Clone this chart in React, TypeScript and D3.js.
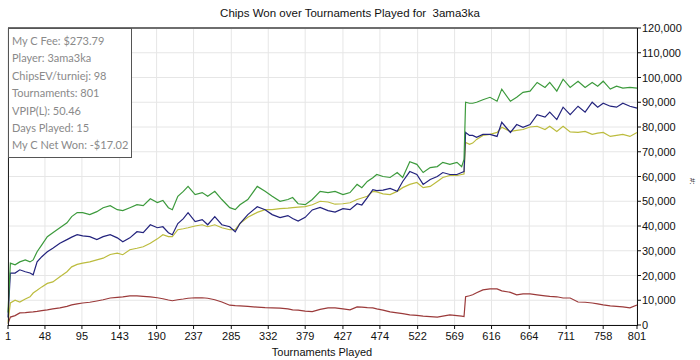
import React from 'react';
import * as d3 from 'd3';

// tournament number for each sampled point
const tournaments = [1, 4, 10, 16, 23, 29, 33, 38, 44, 51, 58, 67, 76, 82, 89, 96, 105, 114, 122, 131, 140, 147, 156, 165, 173, 182, 191, 198, 205, 210, 217, 224, 230, 239, 248, 255, 264, 273, 283, 290, 296, 306, 318, 328, 337, 347, 357, 363, 370, 379, 388, 398, 408, 417, 427, 436, 445, 451, 458, 465, 470, 478, 487, 496, 503, 512, 521, 529, 538, 547, 554, 563, 572, 578, 581, 583, 588, 592, 597, 605, 614, 623, 629, 640, 648, 656, 665, 674, 684, 690, 699, 707, 716, 726, 735, 744, 751, 758, 767, 775, 783, 792, 801];

// chips, in thousands
const greenK = [5, 25, 24.3, 25.5, 26.3, 25.5, 26.3, 29.6, 32.4, 35.7, 37.3, 39.3, 41.3, 43.8, 45.4, 45.4, 44.6, 45.8, 47.4, 48.2, 46.6, 46.2, 47.4, 48.6, 48.2, 51, 49.5, 50.3, 47.4, 46.6, 52, 54, 56, 52.7, 53.5, 52, 54, 50.7, 47.4, 46.6, 48.6, 50.7, 56, 54, 52, 50, 50.7, 51.5, 49, 48.6, 50.7, 54, 53.5, 54, 52.7, 53.5, 56.8, 55.5, 58, 59.5, 60.8, 60, 59.6, 61.6, 59.6, 66, 64.9, 61.6, 63.6, 64, 65.7, 64.9, 65.7, 64, 66.9, 90, 89.6, 89.6, 90, 91, 92, 90.4, 95.3, 90.4, 92, 94, 94.5, 98, 96, 98, 94.5, 99.3, 96, 98.5, 96, 98, 96.5, 98.5, 95.3, 96.5, 95.7, 96, 95.7];
const blueK = [3, 21, 21, 22.3, 21.5, 21, 20.3, 25.5, 27.6, 29.6, 31, 33, 34.5, 35.5, 36.5, 36, 35.7, 34.5, 35.7, 36.5, 35.2, 33.6, 35.2, 37.7, 37.3, 40.5, 39.3, 39.7, 37.3, 36.5, 41, 43, 45.4, 41.8, 42.6, 40.5, 43.8, 40.5, 39.7, 37.7, 41, 44.6, 47.8, 46.6, 44.6, 43.4, 44.2, 43, 42, 43.5, 46.5, 47.5, 46.2, 45.6, 47, 46.6, 49, 48.5, 51.5, 54.7, 54.3, 54.5, 55.2, 54, 58, 62, 60.8, 56.8, 58.8, 60, 61.6, 60.8, 60.8, 61.6, 62, 77.8, 76.6, 76.6, 75.8, 77, 77, 76.2, 81.9, 77.8, 81, 79.9, 81, 85, 84, 86, 83, 88, 85, 88.4, 86, 90, 88, 89.6, 88.4, 88, 89.6, 88.4, 87.6];
const yellowK = [1, 8.9, 10, 9.3, 10.5, 11.4, 12.9, 14, 15.4, 16.8, 17.4, 19.5, 21.5, 23.5, 24.5, 25, 25.5, 26.3, 27, 28.5, 29, 28.4, 30.4, 31, 31.6, 33, 34.8, 36.5, 35.7, 35.7, 38.5, 38.9, 39.3, 40, 40.5, 39.7, 40.5, 39.3, 38.5, 38.5, 41, 43.5, 45.5, 46.6, 46.6, 47, 47.2, 47.4, 47.6, 47.8, 48.6, 50, 49.7, 48.8, 49, 49.4, 50.7, 51.3, 52, 54, 53.8, 53, 52.7, 54, 55.5, 56.8, 57.6, 55.5, 56, 58, 59.6, 60.4, 60.4, 60.8, 61, 73.8, 73, 73.5, 75, 76.6, 77, 77.8, 79.9, 78.2, 78.6, 79, 80, 80.3, 79, 80.3, 78.2, 80.3, 78, 77.8, 78.2, 77, 77.5, 77.8, 76.2, 76.6, 77, 76.2, 77.8];
const redK = [0.5, 3.2, 3.8, 4.9, 5, 5.2, 5.3, 5.5, 5.8, 6.1, 6.5, 6.9, 7.5, 8.1, 8.5, 8.9, 9.2, 9.7, 10.2, 10.9, 11.2, 11.4, 11.8, 11.8, 11.6, 11.4, 11, 10.6, 10.1, 9.8, 10.2, 10.5, 10.8, 11, 11, 10.8, 10.2, 9.3, 8, 7.8, 7.7, 7.5, 7.2, 7, 6.9, 6.8, 6.5, 6.1, 6, 5.6, 5.4, 6.3, 6.9, 6.9, 6.5, 6.1, 7.3, 7.2, 7, 6.9, 6.5, 6, 5.3, 4.9, 4.6, 4.1, 3.9, 3.6, 3.4, 3.2, 3.6, 4.1, 3.8, 3.6, 3.4, 11.4, 11.8, 12.2, 13, 14.2, 14.6, 14.6, 13.8, 13.2, 12.2, 12.6, 12.6, 12.2, 11.8, 11.6, 11.4, 10.9, 10.9, 9.3, 9.2, 8.9, 8.5, 8.1, 7.7, 7.5, 7.3, 6.9, 8.1];

const xTicks = [1, 48, 95, 143, 190, 237, 285, 332, 379, 427, 474, 522, 569, 616, 664, 711, 758, 801];
const yTicks = [0, 10000, 20000, 30000, 40000, 50000, 60000, 70000, 80000, 90000, 100000, 110000, 120000];

const statsLines = [
    'My C Fee: $273.79',
    'Player: 3ama3ka',
    'ChipsEV/turniej: 98',
    'Tournaments: 801',
    'VPIP(L): 50.46',
    'Days Played: 15',
    'My C Net Won: -$17.02'
];

const series = [
    { name: 'red', values: redK, color: '#9b3a3a' },
    { name: 'yellow', values: yellowK, color: '#bcbc3e' },
    { name: 'blue', values: blueK, color: '#23237d' },
    { name: 'green', values: greenK, color: '#3c9a3c' }
];

function App() {
    const w = 700, h = 360;
    const left = 8, right = 637, top = 28, bottom = 325;

    const x = d3.scaleLinear().domain([1, 801]).range([left, right]);
    const y = d3.scaleLinear().domain([0, 120000]).range([bottom, top]);

    const line = d3.line<number>()
        .x((d, i) => x(tournaments[i]))
        .y(d => y(d * 1000));

    const fmt = d3.format(',');
    const axisFont = '"Liberation Sans", Arial, sans-serif';

    return (
        <div style={{ position: 'absolute', left: 0, top: 0 }}>
            <svg width={w} height={h} style={{ display: 'block', background: '#fff' }}>
                {/* title */}
                <text x={350} y={17} textAnchor="middle" fontFamily={axisFont} fontSize={11.5} fill="#111">
                    Chips Won over Tournaments Played for {'\u00a0'}3ama3ka
                </text>

                {/* grid */}
                {yTicks.map(t => (
                    <line key={'gy' + t} x1={left} x2={right} y1={y(t)} y2={y(t)} stroke="#e6e6e6" strokeWidth={1} />
                ))}
                {xTicks.map(t => (
                    <line key={'gx' + t} x1={x(t)} x2={x(t)} y1={top} y2={bottom} stroke="#e6e6e6" strokeWidth={1} />
                ))}

                {/* lines */}
                {series.map(s => (
                    <path key={s.name} d={line(s.values) || ''} fill="none" stroke={s.color} strokeWidth={1.2} />
                ))}

                {/* frame */}
                <line x1={left} x2={right} y1={top} y2={top} stroke="#6e6e6e" strokeWidth={2} />
                <line x1={left + 0.5} x2={left + 0.5} y1={top} y2={bottom} stroke="#222" strokeWidth={1} />

                {/* right axis */}
                <line x1={right + 0.5} x2={right + 0.5} y1={top} y2={bottom} stroke="#111" strokeWidth={1} />
                {yTicks.map(t => (
                    <g key={'yt' + t}>
                        <line x1={right} x2={right + 4} y1={y(t)} y2={y(t)} stroke="#111" />
                        <text x={right + 5} y={y(t) + 4} fontFamily={axisFont} fontSize={11} fill="#111">{fmt(t)}</text>
                    </g>
                ))}
                <text transform={`translate(690,178) rotate(90)`} fontFamily={axisFont} fontSize={8} fill="#111">#:</text>

                {/* bottom axis */}
                <line x1={left} x2={right + 1} y1={bottom + 0.5} y2={bottom + 0.5} stroke="#111" strokeWidth={1} />
                {xTicks.map(t => (
                    <g key={'xt' + t}>
                        <line x1={x(t)} x2={x(t)} y1={bottom} y2={bottom + 4} stroke="#111" />
                        <text x={x(t)} y={bottom + 15} textAnchor="middle" fontFamily={axisFont} fontSize={11} fill="#111">{t}</text>
                    </g>
                ))}
                <text x={322} y={356} textAnchor="middle" fontFamily={axisFont} fontSize={11} fill="#111">Tournaments Played</text>

                {/* stats box */}
                <rect x={left + 0.5} y={top + 0.5} width={123} height={129} fill="#fff" stroke="#555" strokeWidth={1} />
                {statsLines.map((s, i) => (
                    <text key={s} x={12} y={45 + i * 17.4} fontFamily='Lato, "Noto Sans", sans-serif' fontSize={11} fill="#8a8a8a">{s}</text>
                ))}
            </svg>
        </div>
    );
}

export default App;
